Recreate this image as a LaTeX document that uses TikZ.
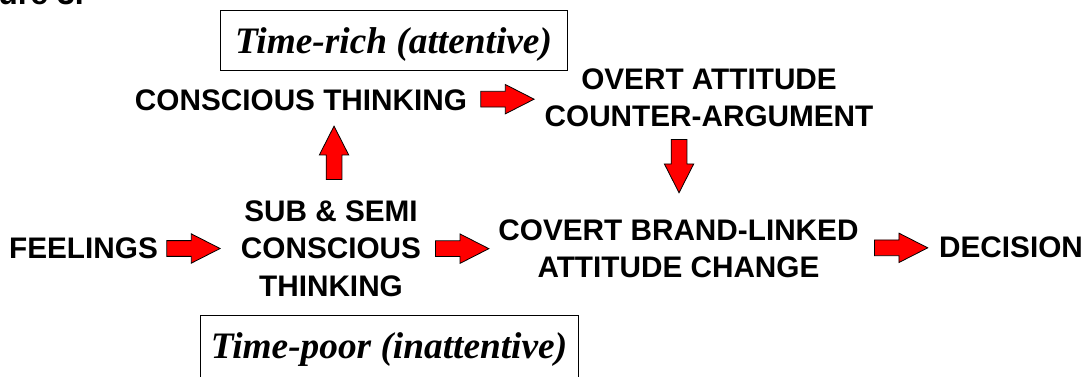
\documentclass[tikz,border=0pt]{standalone}
\usepackage{fontspec}
\setmainfont{Liberation Serif}
\setsansfont{Liberation Sans}
\usetikzlibrary{shapes.arrows}

\begin{document}
\begin{tikzpicture}[
            x=0.75pt, y=-0.75pt,
            lbl/.style={
                align=center,
                inner sep=0pt,
                font=\sffamily\bfseries\fontsize{22.3}{28}\selectfont
            },
            timebox/.style={
                draw,
                line width=0.75pt,
                inner sep=0pt,
                text height=32.25pt,
                text depth=12.75pt,
                font=\rmfamily\bfseries\itshape\fontsize{28}{34}\selectfont
            },
            redarrow/.style={
                single arrow,
                anchor=tail,
                draw=black,
                fill=red,
                line width=0.6pt,
                minimum height=40pt,
                minimum width=21.5pt,
                single arrow head extend=5.1pt,
                single arrow tip angle=54,
                inner sep=5.6pt
            }
        ]
        \useasboundingbox (0,0) rectangle (1091,376);
        \clip (0,0) rectangle (1091,376);

        % Nodes
        \node[lbl, anchor=base east, font=\sffamily\bfseries\fontsize{24}{28}\selectfont] (fig) at (84,4) {Figure 3.};
        \node[timebox, minimum width=260.25pt, anchor=base] (rich) at (393.5,53) {Time-rich (attentive)};
        \node[timebox, minimum width=283.5pt, anchor=base, text depth=15pt] (poor) at (389,358) {Time-poor (inattentive)};
        \node[lbl] (conscious) at (301,100.5) {CONSCIOUS THINKING};
        \node[lbl] (overt) at (709,97.5) {OVERT ATTITUDE\\COUNTER-ARGUMENT};
        \node[lbl] (feel) at (83.5,248.5) {FEELINGS};
        \node[lbl] (sub) at (331,248.5) {SUB \& SEMI\\CONSCIOUS\\THINKING};
        \node[lbl] (covert) at (678.5,249) {COVERT BRAND-LINKED\\ATTITUDE CHANGE};
        \node[lbl] (decision) at (1011,247) {DECISION};

        % Arrows
        \path (feel) -- node[redarrow, pos=0.1] (a1) {} (sub);
        \path (sub) -- node[redarrow, pos=0.18] (a2) {} (covert);
        \path (covert) -- node[redarrow, pos=0.19] (a3) {} (decision);
        \path (sub) -- node[redarrow, pos=0.23, shape border rotate=90, xshift=12.7pt] (a4) {} (conscious);
        \path (conscious) -- node[redarrow, pos=0.17] (a5) {} (overt);
        \path (overt) -- node[redarrow, pos=0.13, shape border rotate=270, xshift=-16.2pt] (a6) {} (covert);

\end{tikzpicture}
\end{document}
